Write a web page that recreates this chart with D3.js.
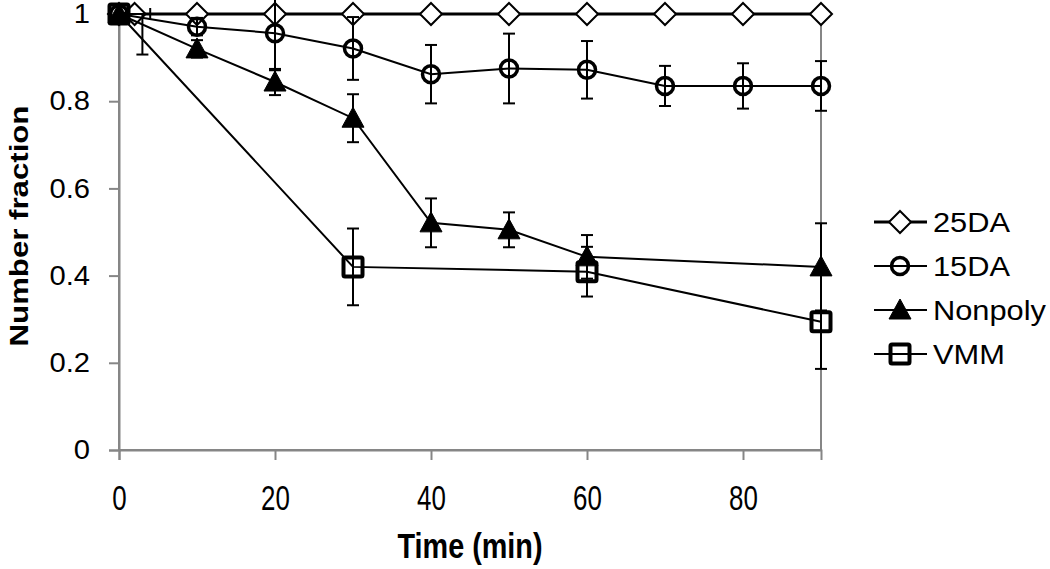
<!DOCTYPE html>
<html>
<head>
<meta charset="utf-8">
<script src="https://cdn.jsdelivr.net/npm/d3@7"></script>
<style>
  html, body { margin: 0; padding: 0; background: #fff; }
  svg { display: block; }
  text { font-family: "Liberation Sans", Arial, Helvetica, sans-serif; fill: #000; }
</style>
</head>
<body>
<svg id="chart" width="1050" height="569"></svg>
<script>
// ---------- data ----------
const seriesNames = ["25DA", "15DA", "Nonpoly", "VMM"];

const t25 = [0, 2, 10, 20, 30, 40, 50, 60, 70, 80, 90];
const v25 = [1, 1, 1, 1, 1, 1, 1, 1, 1, 1, 1];
const e25 = [0, 0, 0, 0, 0, 0, 0, 0, 0, 0, 0];
const xe25 = [0, 2, 0, 0, 0, 0, 0, 0, 0, 0, 0];

const t15 = [0, 10, 20, 30, 40, 50, 60, 70, 80, 90];
const v15 = [1, 0.971, 0.956, 0.921, 0.862, 0.875, 0.872, 0.835, 0.835, 0.835];
const e15 = [0, 0.02, 0.085, 0.072, 0.067, 0.08, 0.066, 0.046, 0.052, 0.057];

const tNP = [0, 10, 20, 30, 40, 50, 60, 90];
const vNP = [1, 0.92, 0.844, 0.761, 0.521, 0.505, 0.443, 0.42];
const eNP = [0, 0.02, 0.03, 0.055, 0.056, 0.04, 0.05, 0.1];

const tVMM = [0, 30, 60, 90];
const vVMM = [1, 0.42, 0.409, 0.294];
const eVMM = [0, 0.088, 0.057, 0.108];

// stray downward error bar near the start
const strayT = [3];
const strayV = [1];
const strayLo = [0.907];

const xTicks = [0, 20, 40, 60, 80];
const yTicks = [0, 0.2, 0.4, 0.6, 0.8, 1];
const xTitle = "Time (min)";
const yTitle = "Number fraction";

// ---------- layout ----------
const svg = d3.select("#chart");
const L = 119, R = 821, T = 14, B = 450;
const x = d3.scaleLinear().domain([0, 90]).range([L, R]);
const y = d3.scaleLinear().domain([0, 1]).range([B, T]);
const axisColor = "#868686";

// plot area border (right/top)
svg.append("rect").attr("x", L).attr("y", T).attr("width", R - L).attr("height", B - T)
  .attr("fill", "none").attr("stroke", axisColor).attr("stroke-width", 2);

// axes
const gx = svg.append("g").attr("transform", `translate(0,${B})`)
  .call(d3.axisBottom(x).tickValues(xTicks).tickSize(10).tickPadding(14).tickFormat(d3.format("d")));
const gy = svg.append("g").attr("transform", `translate(${L},0)`)
  .call(d3.axisLeft(y).tickValues(yTicks).tickSize(10).tickPadding(18).tickFormat(d => String(+d.toFixed(1))));
[gx, gy].forEach(g => {
  g.select(".domain").attr("stroke", axisColor).attr("stroke-width", 2);
  g.selectAll(".tick line").attr("stroke", axisColor).attr("stroke-width", 2);
});
gx.selectAll(".tick text").attr("font-size", 36).attr("transform", "scale(0.72,1)")
  .attr("dy", null).attr("y", 60);
const ysx = 1.08;
gy.selectAll(".tick text").attr("font-size", 27).attr("transform", `scale(${ysx},1)`)
  .attr("x", -29 / ysx);

// axis titles
svg.append("text").attr("transform", `translate(470,558) scale(0.8,1)`)
  .attr("text-anchor", "middle").attr("font-size", 36).attr("font-weight", "bold").text(xTitle);
svg.append("text").attr("transform", `translate(28,226) rotate(-90) scale(1.2,1)`)
  .attr("text-anchor", "middle").attr("font-size", 26).attr("font-weight", "bold").text(yTitle);

// ---------- series ----------
const series = [
  { name: seriesNames[0], t: t25, v: v25, e: e25, xe: xe25, marker: "diamond", lw: 3 },
  { name: seriesNames[1], t: t15, v: v15, e: e15, marker: "circle", lw: 2 },
  { name: seriesNames[2], t: tNP, v: vNP, e: eNP, marker: "triangle", lw: 2 },
  { name: seriesNames[3], t: tVMM, v: vVMM, e: eVMM, marker: "square", lw: 2 }
];

function drawMarker(g, type, cx, cy) {
  if (type === "diamond") {
    const s = 11;
    g.append("path").attr("d", `M${cx},${cy - s}L${cx + s},${cy}L${cx},${cy + s}L${cx - s},${cy}Z`)
      .attr("fill", "#fff").attr("stroke", "#000").attr("stroke-width", 2);
  } else if (type === "circle") {
    g.append("circle").attr("cx", cx).attr("cy", cy).attr("r", 8.5)
      .attr("fill", "none").attr("stroke", "#000").attr("stroke-width", 3.5);
  } else if (type === "triangle") {
    g.append("path").attr("d", `M${cx},${cy - 11}L${cx + 11},${cy + 9}L${cx - 11},${cy + 9}Z`)
      .attr("fill", "#000").attr("stroke", "#000").attr("stroke-width", 1);
  } else if (type === "square") {
    g.append("rect").attr("x", cx - 9.5).attr("y", cy - 9.5).attr("width", 19).attr("height", 19)
      .attr("fill", "none").attr("stroke", "#000").attr("stroke-width", 4).attr("rx", 1.5);
  }
}

function errBar(g, cx, y1, y2, capTop, capBottom) {
  g.append("line").attr("x1", cx).attr("x2", cx).attr("y1", y1).attr("y2", y2)
    .attr("stroke", "#000").attr("stroke-width", 2);
  const cw = 6;
  if (capTop) g.append("line").attr("x1", cx - cw).attr("x2", cx + cw).attr("y1", y1).attr("y2", y1)
    .attr("stroke", "#000").attr("stroke-width", 2);
  if (capBottom) g.append("line").attr("x1", cx - cw).attr("x2", cx + cw).attr("y1", y2).attr("y2", y2)
    .attr("stroke", "#000").attr("stroke-width", 2);
}

const line = d3.line().x(d => x(d[0])).y(d => y(d[1]));

series.forEach(s => {
  const g = svg.append("g");
  const pts = s.t.map((t, i) => [t, s.v[i]]);
  g.append("path").attr("d", line(pts)).attr("fill", "none").attr("stroke", "#000")
    .attr("stroke-width", s.lw);
  pts.forEach((p, i) => drawMarker(g, s.marker, x(p[0]), y(p[1])));
  pts.forEach((p, i) => {
    const e = s.e[i];
    if (e > 0) errBar(g, x(p[0]), y(p[1] + e), y(p[1] - e), true, true);
    if (s.xe && s.xe[i] > 0) {
      const xa = x(p[0] - s.xe[i]), xb = x(p[0] + s.xe[i]), cy = y(p[1]);
      g.append("line").attr("x1", xa).attr("x2", xb).attr("y1", cy).attr("y2", cy)
        .attr("stroke", "#000").attr("stroke-width", 2);
      g.append("line").attr("x1", xb).attr("x2", xb).attr("y1", cy - 6).attr("y2", cy + 6)
        .attr("stroke", "#000").attr("stroke-width", 2);
    }
  });
});

// stray error bar
strayT.forEach((t, i) => {
  errBar(svg, x(t), y(strayV[i]), y(strayLo[i]), false, true);
});

// ---------- legend ----------
const legY = [222, 266, 310, 354];
series.forEach((s, i) => {
  const g = svg.append("g");
  const cy = legY[i];
  g.append("line").attr("x1", 874).attr("x2", 927).attr("y1", cy).attr("y2", cy)
    .attr("stroke", "#000").attr("stroke-width", s.lw);
  drawMarker(g, s.marker, 900, cy);
  g.append("text").attr("transform", `translate(933,${cy}) scale(1.1,1)`)
    .attr("dy", "0.36em").attr("font-size", 28).text(s.name);
});
</script>
</body>
</html>
